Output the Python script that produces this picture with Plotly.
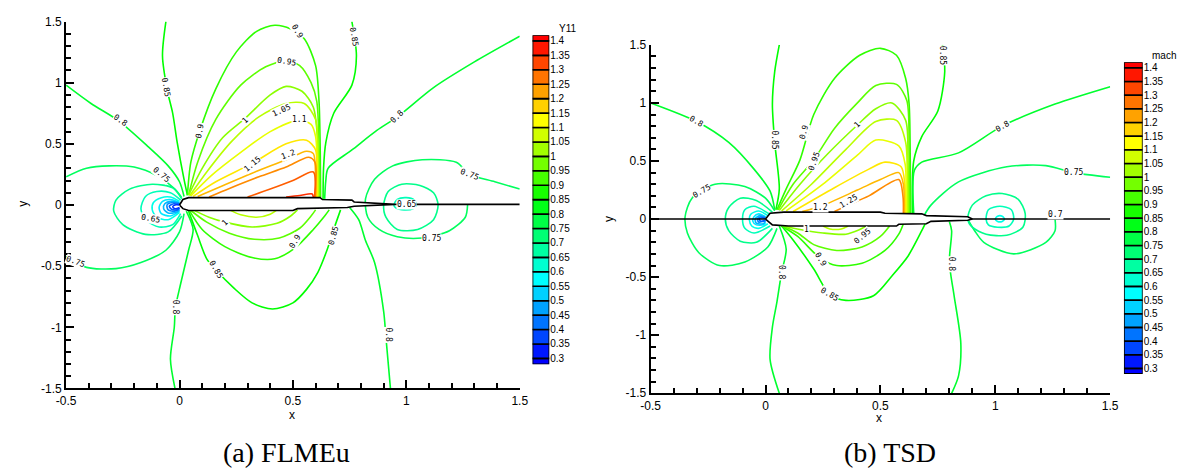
import plotly.graph_objects as go
from plotly.colors import sample_colorscale

# ---------------- shared scale ----------------
LEVELS = [0.3, 0.35, 0.4, 0.45, 0.5, 0.55, 0.6, 0.65, 0.7, 0.75, 0.8, 0.85,
          0.9, 0.95, 1.0, 1.05, 1.1, 1.15, 1.2, 1.25, 1.3, 1.35, 1.4]
LEVEL_TEXT = ["0.3", "0.35", "0.4", "0.45", "0.5", "0.55", "0.6", "0.65", "0.7", "0.75",
              "0.8", "0.85", "0.9", "0.95", "1", "1.05", "1.1", "1.15", "1.2", "1.25",
              "1.3", "1.35", "1.4"]
RAINBOW = [[0.0, "#0000ff"], [0.25, "#00ffff"], [0.5, "#00ff00"], [0.75, "#ffff00"], [1.0, "#ff0000"]]
ZMIN, ZMAX = 0.3, 1.4

X_TICKS = [-0.5, 0, 0.5, 1, 1.5]
X_TICKTEXT = ["-0.5", "0", "0.5", "1", "1.5"]
Y_TICKS = [-1.5, -1, -0.5, 0, 0.5, 1, 1.5]
Y_TICKTEXT = ["-1.5", "-1", "-0.5", "0", "0.5", "1", "1.5"]

# ---------------- (a) FLMEu : iso-Mach lines ----------------
A_LEVEL = [0.8, 0.75, 0.75, 0.85, 0.9, 0.95, 1.0, 1.05, 1.1, 1.15, 1.2, 1.25, 1.3, 1.35,
           0.85, 0.8, 0.75, 0.7, 0.65,
           0.8, 0.85, 0.9, 0.95, 1.0, 1.05, 0.8,
           0.7, 0.65, 0.6, 0.55, 0.5, 0.45, 0.4, 0.35]
A_PTS = [
    [(-0.5, 0.98), (-0.39, 0.83), (-0.27, 0.69), (-0.14, 0.48), (-0.05, 0.32), (0.0, 0.19), (0.02, 0.07)],
    [(-0.5, 0.23), (-0.41, 0.3), (-0.31, 0.32), (-0.2, 0.31), (-0.1, 0.24), (-0.02, 0.13), (0.01, 0.06)],
    [(-0.5, -0.42), (-0.41, -0.51), (-0.28, -0.52), (-0.17, -0.47), (-0.06, -0.37), (0.0, -0.22), (0.02, -0.07)],
    [(-0.06, 1.5), (-0.075, 1.22), (-0.053, 0.93), (-0.03, 0.75), (-0.01, 0.51), (0.02, 0.21), (0.035, 0.08)],
    [(0.035, 0.08), (0.05, 0.35), (0.09, 0.61), (0.16, 0.95), (0.25, 1.25), (0.34, 1.42), (0.42, 1.47),
     (0.49, 1.44), (0.55, 1.36), (0.6, 1.14), (0.615, 0.85), (0.62, 0.5), (0.622, 0.065)],
    [(0.04, 0.08), (0.08, 0.35), (0.16, 0.7), (0.27, 0.98), (0.38, 1.13), (0.47, 1.18), (0.53, 1.14),
     (0.58, 1.0), (0.605, 0.85), (0.615, 0.5), (0.618, 0.065)],
    [(0.04, 0.08), (0.1, 0.3), (0.19, 0.55), (0.29, 0.71), (0.4, 0.9), (0.47, 0.97), (0.54, 0.93),
     (0.59, 0.8), (0.61, 0.5), (0.614, 0.065)],
    [(0.045, 0.075), (0.12, 0.27), (0.23, 0.52), (0.35, 0.72), (0.47, 0.83), (0.55, 0.83), (0.6, 0.7),
     (0.61, 0.4), (0.611, 0.065)],
    [(0.05, 0.075), (0.14, 0.24), (0.27, 0.43), (0.4, 0.6), (0.52, 0.69), (0.58, 0.66), (0.6, 0.56),
     (0.607, 0.3), (0.608, 0.065)],
    [(0.06, 0.07), (0.16, 0.19), (0.32, 0.34), (0.47, 0.5), (0.56, 0.53), (0.6, 0.45), (0.604, 0.2), (0.605, 0.065)],
    [(0.08, 0.07), (0.18, 0.15), (0.32, 0.26), (0.47, 0.37), (0.56, 0.44), (0.59, 0.42), (0.6, 0.2), (0.601, 0.065)],
    [(0.13, 0.065), (0.22, 0.135), (0.35, 0.23), (0.47, 0.31), (0.57, 0.39), (0.597, 0.35), (0.598, 0.065)],
    [(0.3, 0.065), (0.4, 0.13), (0.5, 0.2), (0.59, 0.27), (0.595, 0.065)],
    [(0.47, 0.065), (0.53, 0.077), (0.585, 0.09), (0.59, 0.065)],
    [(0.76, 1.5), (0.78, 1.22), (0.76, 0.98), (0.68, 0.75), (0.645, 0.51), (0.635, 0.3), (0.633, 0.05)],
    [(0.64, 0.05), (0.645, 0.2), (0.655, 0.3), (0.76, 0.45), (0.87, 0.61), (0.96, 0.72), (1.12, 0.96),
     (1.3, 1.17), (1.5, 1.38)],
    [(1.5, 0.13), (1.39, 0.19), (1.28, 0.25), (1.22, 0.35), (1.07, 0.37), (0.94, 0.32), (0.86, 0.21),
     (0.82, 0.05), (0.83, -0.1), (0.88, -0.2), (0.96, -0.26), (1.07, -0.27), (1.19, -0.21), (1.26, -0.1), (1.27, 0.0)],
    [(0.9, 0.0), (0.92, 0.11), (0.98, 0.17), (1.06, 0.16), (1.12, 0.1), (1.14, 0.0), (1.12, -0.12),
     (1.05, -0.2), (0.96, -0.2), (0.91, -0.1), (0.9, 0.0)],
    [(0.945, 0.0), (0.96, 0.045), (1.0, 0.06), (1.035, 0.04), (1.045, 0.0), (1.03, -0.03), (0.99, -0.04),
     (0.955, -0.025), (0.945, 0.0)],
    [(0.03, -0.05), (0.06, -0.2), (0.04, -0.37), (0.003, -0.66), (-0.018, -0.84), (-0.023, -1.0),
     (-0.04, -1.26), (-0.02, -1.5)],
    [(0.04, -0.05), (0.08, -0.25), (0.12, -0.44), (0.16, -0.53), (0.24, -0.68), (0.32, -0.8), (0.41, -0.85),
     (0.5, -0.8), (0.56, -0.69), (0.61, -0.55), (0.65, -0.37), (0.68, -0.2), (0.71, -0.04)],
    [(0.045, -0.05), (0.1, -0.2), (0.2, -0.34), (0.32, -0.43), (0.42, -0.44), (0.51, -0.35), (0.59, -0.2),
     (0.64, -0.09), (0.66, -0.04)],
    [(0.05, -0.045), (0.12, -0.14), (0.22, -0.23), (0.33, -0.28), (0.44, -0.27), (0.53, -0.19), (0.58, -0.09), (0.6, -0.04)],
    [(0.06, -0.04), (0.13, -0.1), (0.2, -0.14), (0.32, -0.18), (0.43, -0.15), (0.49, -0.09), (0.52, -0.04)],
    [(0.22, -0.04), (0.27, -0.08), (0.34, -0.1), (0.4, -0.075), (0.43, -0.04)],
    [(0.75, -0.02), (0.79, -0.12), (0.82, -0.29), (0.86, -0.47), (0.9, -0.87), (0.91, -1.08), (0.93, -1.5)],
    [(0.01, 0.05), (-0.03, 0.14), (-0.12, 0.17), (-0.22, 0.13), (-0.28, 0.04), (-0.29, -0.05), (-0.25, -0.16),
     (-0.15, -0.24), (-0.05, -0.22), (0.01, -0.09)],
    [(0.005, 0.04), (-0.04, 0.1), (-0.1, 0.11), (-0.15, 0.07), (-0.17, -0.03), (-0.15, -0.12), (-0.09, -0.18),
     (-0.03, -0.16), (0.005, -0.07)],
    [(0.0, 0.03), (-0.04, 0.065), (-0.08, 0.06), (-0.115, 0.02), (-0.12, -0.04), (-0.1, -0.1), (-0.05, -0.12), (0.0, -0.06)],
    [(0.0, 0.02), (-0.04, 0.045), (-0.075, 0.03), (-0.09, -0.02), (-0.08, -0.07), (-0.04, -0.09), (0.0, -0.05)],
    [(0.0, 0.015), (-0.035, 0.03), (-0.065, 0.01), (-0.07, -0.03), (-0.05, -0.065), (-0.015, -0.06), (0.0, -0.04)],
    [(0.0, 0.01), (-0.03, 0.02), (-0.055, 0.0), (-0.05, -0.04), (-0.02, -0.05), (0.0, -0.03)],
    [(0.0, 0.005), (-0.025, 0.01), (-0.045, -0.01), (-0.035, -0.035), (-0.01, -0.04), (0.0, -0.025)],
    [(0.0, 0.0), (-0.02, 0.0), (-0.03, -0.015), (-0.02, -0.03), (0.0, -0.02)],
]
A_LABELS = [("0.8", -0.26, 0.69, 35), ("0.75", -0.08, 0.25, 40), ("0.85", -0.06, 0.96, 80),
            ("0.9", 0.09, 0.61, -80), ("0.95", 0.47, 1.17, 10), ("0.9", 0.52, 1.42, 60),
            ("1", 0.29, 0.69, -45), ("1.05", 0.45, 0.77, -25), ("1.1", 0.53, 0.7, 0),
            ("1.15", 0.32, 0.33, -40), ("1.2", 0.48, 0.41, -20), ("0.85", 0.77, 1.38, 80),
            ("0.8", 0.96, 0.72, -45), ("0.75", 1.28, 0.25, 20), ("0.65", 1.0, 0.0, 0),
            ("0.75", 1.11, -0.27, 0), ("0.65", -0.13, -0.11, 10), ("0.75", -0.46, -0.46, 20),
            ("0.8", -0.02, -0.84, 90), ("0.85", 0.16, -0.53, 60), ("0.9", 0.51, -0.3, -60),
            ("1", 0.2, -0.14, -45), ("0.8", 0.92, -1.06, 90), ("0.85", 0.68, -0.25, -75)]
A_FOIL_X = [0.0, 0.015, 0.04, 0.62, 0.63, 0.76, 0.77, 0.95, 0.77, 0.74, 0.52, 0.5, 0.04, 0.015, 0.0]
A_FOIL_Y = [0.0, 0.045, 0.06, 0.06, 0.045, 0.04, 0.025, 0.005, -0.01, -0.02, -0.03, -0.045, -0.045, -0.03, 0.0]
A_WAKE_X = [0.95, 1.5]
A_WAKE_Y = [0.005, 0.005]

# ---------------- (b) TSD ----------------
B_LEVEL = [0.8, 0.75, 0.7, 0.65, 0.6, 0.55, 0.5, 0.45, 0.4,
           0.85, 0.9, 0.95, 1.0, 1.05, 1.1, 1.15, 1.2, 1.25,
           0.85, 0.8, 0.75, 0.75, 0.7, 0.65, 0.6,
           0.8, 0.85, 0.9, 0.95, 1.0, 1.05, 0.8]
B_PTS = [
    [(-0.5, 1.0), (-0.3, 0.84), (-0.16, 0.66), (-0.05, 0.43), (0.02, 0.24), (0.04, 0.08)],
    [(0.04, 0.07), (0.0, 0.18), (-0.09, 0.28), (-0.22, 0.3), (-0.32, 0.18), (-0.35, 0.02), (-0.34, -0.12),
     (-0.29, -0.29), (-0.2, -0.4), (-0.09, -0.37), (0.01, -0.24), (0.05, -0.08)],
    [(0.03, 0.06), (-0.04, 0.16), (-0.11, 0.18), (-0.16, 0.1), (-0.175, 0.0), (-0.16, -0.1), (-0.11, -0.19),
     (-0.04, -0.2), (0.03, -0.08)],
    [(0.02, 0.04), (-0.05, 0.11), (-0.09, 0.08), (-0.1, 0.0), (-0.09, -0.08), (-0.05, -0.12), (0.02, -0.06)],
    [(0.01, 0.03), (-0.03, 0.07), (-0.065, 0.04), (-0.07, -0.01), (-0.06, -0.06), (-0.03, -0.08), (0.01, -0.04)],
    [(0.0, 0.02), (-0.03, 0.045), (-0.05, 0.02), (-0.055, -0.02), (-0.04, -0.05), (-0.01, -0.05), (0.0, -0.03)],
    [(0.0, 0.015), (-0.025, 0.03), (-0.045, 0.0), (-0.04, -0.035), (-0.01, -0.04), (0.0, -0.02)],
    [(0.0, 0.01), (-0.02, 0.02), (-0.035, 0.0), (-0.03, -0.025), (0.0, -0.015)],
    [(0.0, 0.005), (-0.015, 0.012), (-0.028, 0.0), (-0.02, -0.018), (0.0, -0.01)],
    [(0.045, 0.08), (0.06, 0.26), (0.04, 0.66), (0.03, 0.99), (0.04, 1.27), (0.06, 1.5)],
    [(0.05, 0.08), (0.09, 0.26), (0.15, 0.51), (0.21, 0.9), (0.3, 1.21), (0.41, 1.41), (0.5, 1.47),
     (0.57, 1.41), (0.61, 1.21), (0.625, 0.99), (0.63, 0.5), (0.632, 0.05)],
    [(0.055, 0.08), (0.12, 0.3), (0.21, 0.51), (0.3, 0.78), (0.4, 1.0), (0.48, 1.15), (0.57, 1.16),
     (0.615, 1.02), (0.625, 0.6), (0.627, 0.05)],
    [(0.06, 0.075), (0.15, 0.3), (0.27, 0.56), (0.4, 0.81), (0.48, 0.95), (0.55, 1.0), (0.61, 0.85),
     (0.62, 0.5), (0.622, 0.05)],
    [(0.07, 0.07), (0.2, 0.3), (0.35, 0.6), (0.48, 0.84), (0.57, 0.85), (0.61, 0.66), (0.617, 0.3), (0.618, 0.05)],
    [(0.09, 0.07), (0.25, 0.3), (0.4, 0.55), (0.48, 0.68), (0.58, 0.63), (0.608, 0.47), (0.612, 0.2), (0.613, 0.05)],
    [(0.12, 0.065), (0.3, 0.27), (0.45, 0.43), (0.52, 0.49), (0.59, 0.45), (0.606, 0.3), (0.608, 0.05)],
    [(0.16, 0.065), (0.24, 0.11), (0.4, 0.25), (0.5, 0.34), (0.58, 0.4), (0.6, 0.3), (0.603, 0.05)],
    [(0.3, 0.065), (0.36, 0.12), (0.45, 0.2), (0.58, 0.34), (0.598, 0.2), (0.6, 0.05)],
    [(0.77, 1.5), (0.78, 1.27), (0.75, 0.93), (0.68, 0.71), (0.645, 0.5), (0.64, 0.05)],
    [(0.645, 0.05), (0.648, 0.42), (0.68, 0.49), (0.84, 0.57), (1.03, 0.8), (1.26, 0.99), (1.5, 1.14)],
    [(1.5, 0.36), (1.34, 0.4), (1.22, 0.46), (1.05, 0.45), (0.84, 0.32), (0.72, 0.12), (0.69, 0.03)],
    [(0.88, 0.0), (0.91, -0.1), (0.95, -0.2), (1.08, -0.3), (1.22, -0.2), (1.26, -0.1), (1.26, 0.0)],
    [(0.88, 0.0), (0.9, 0.12), (0.96, 0.2), (1.03, 0.22), (1.1, 0.17), (1.13, 0.05), (1.12, -0.07),
     (1.05, -0.14), (0.96, -0.13), (0.9, -0.07), (0.88, 0.0)],
    [(0.96, 0.0), (0.97, 0.08), (1.02, 0.11), (1.07, 0.08), (1.08, 0.0), (1.06, -0.06), (1.01, -0.07),
     (0.97, -0.05), (0.96, 0.0)],
    [(1.0, 0.0), (1.01, 0.025), (1.03, 0.025), (1.04, 0.0), (1.03, -0.02), (1.01, -0.02), (1.0, 0.0)],
    [(0.06, -0.06), (0.09, -0.26), (0.07, -0.46), (0.05, -0.71), (0.03, -0.93), (0.02, -1.21), (0.06, -1.5)],
    [(0.07, -0.06), (0.12, -0.18), (0.21, -0.43), (0.28, -0.65), (0.35, -0.7), (0.47, -0.66), (0.55, -0.49),
     (0.62, -0.32), (0.68, -0.1), (0.7, -0.02)],
    [(0.07, -0.06), (0.14, -0.15), (0.24, -0.34), (0.31, -0.4), (0.42, -0.38), (0.52, -0.27), (0.58, -0.13), (0.6, -0.04)],
    [(0.075, -0.06), (0.14, -0.12), (0.21, -0.22), (0.31, -0.27), (0.42, -0.24), (0.5, -0.15), (0.54, -0.06)],
    [(0.08, -0.06), (0.15, -0.09), (0.25, -0.12), (0.35, -0.13), (0.41, -0.09), (0.44, -0.06)],
    [(0.25, -0.06), (0.28, -0.085), (0.33, -0.085), (0.36, -0.06)],
    [(0.8, -0.02), (0.81, -0.1), (0.8, -0.37), (0.82, -0.65), (0.85, -1.07), (0.84, -1.35), (0.81, -1.5)],
]
B_LABELS = [("0.8", -0.3, 0.84, 30), ("0.75", -0.28, 0.24, -30), ("0.85", 0.04, 0.68, 90),
            ("0.9", 0.17, 0.75, -75), ("0.95", 0.21, 0.5, -70), ("1", 0.4, 0.81, -45),
            ("0.85", 0.77, 1.41, 90), ("0.8", 1.03, 0.8, -30), ("0.75", 1.34, 0.4, 0),
            ("0.7", 1.26, 0.04, 0), ("1.2", 0.24, 0.1, 0), ("1.25", 0.36, 0.15, -30),
            ("0.8", 0.07, -0.46, 90), ("0.9", 0.24, -0.35, 60), ("0.85", 0.28, -0.65, 30),
            ("0.95", 0.42, -0.15, -40), ("1", 0.18, -0.09, 0), ("0.8", 0.81, -0.39, 90)]
B_FOIL_X = [0.0, 0.02, 0.08, 0.5, 0.52, 0.68, 0.7, 0.88, 0.9, 0.88, 0.72, 0.7, 0.58, 0.57, 0.1, 0.03, 0.0]
B_FOIL_Y = [0.0, 0.05, 0.06, 0.06, 0.05, 0.045, 0.03, 0.02, 0.0, -0.01, -0.02, -0.04, -0.045, -0.06, -0.06, -0.05, 0.0]
B_WAKE_X = [-0.5, 1.5]
B_WAKE_Y = [0.0, 0.0]


def level_color(v):
    return sample_colorscale(RAINBOW, [(v - ZMIN) / (ZMAX - ZMIN)])[0]


fig = go.Figure()


def add_panel(levels, pts, labels, foil_x, foil_y, wake_x, wake_y, xa, ya):
    for lev, p in zip(levels, pts):
        fig.add_trace(go.Scatter(
            x=[q[0] for q in p], y=[q[1] for q in p], mode="lines",
            line=dict(color=level_color(lev), width=1.6, shape="spline", smoothing=0.8),
            xaxis=xa, yaxis=ya, hoverinfo="skip", showlegend=False))
    fig.add_trace(go.Scatter(x=wake_x, y=wake_y, mode="lines", line=dict(color="black", width=1.6),
                             xaxis=xa, yaxis=ya, hoverinfo="skip", showlegend=False))
    fig.add_trace(go.Scatter(x=foil_x, y=foil_y, mode="lines", fill="toself", fillcolor="white",
                             line=dict(color="black", width=1.6), xaxis=xa, yaxis=ya,
                             hoverinfo="skip", showlegend=False))
    for txt, lx, ly, ang in labels:
        fig.add_annotation(x=lx, y=ly, xref=xa, yref=ya, text=txt, showarrow=False,
                           textangle=ang, font=dict(family="DejaVu Sans Mono", size=8, color="black"),
                           bgcolor="white", borderpad=0)


add_panel(A_LEVEL, A_PTS, A_LABELS, A_FOIL_X, A_FOIL_Y, A_WAKE_X, A_WAKE_Y, "x", "y")
add_panel(B_LEVEL, B_PTS, B_LABELS, B_FOIL_X, B_FOIL_Y, B_WAKE_X, B_WAKE_Y, "x2", "y2")

# ---------------- legends (colour bands) ----------------
BAND_BASE = [LEVELS[0] - 0.02] + LEVELS
BAND_HEIGHT = [0.02] + [b - a for a, b in zip(LEVELS[:-1], LEVELS[1:])] + [0.02]
BAND_COLOR = ([level_color(LEVELS[0])] +
              [level_color((a + b) / 2) for a, b in zip(LEVELS[:-1], LEVELS[1:])] +
              [level_color(LEVELS[-1])])
for xa, ya in (("x3", "y3"), ("x4", "y4")):
    fig.add_trace(go.Bar(x=[0] * len(BAND_BASE), y=BAND_HEIGHT, base=BAND_BASE, width=1,
                         marker=dict(color=BAND_COLOR, line=dict(color="black", width=1.6)),
                         xaxis=xa, yaxis=ya, hoverinfo="skip", showlegend=False))

TICKFONT = dict(family="Liberation Sans", size=12, color="black")
main_axis = dict(showgrid=False, zeroline=False, showline=True, linecolor="black", linewidth=2,
                 ticks="inside", ticklen=8, tickwidth=2, tickcolor="black", tickfont=TICKFONT,
                 minor=dict(ticks="inside", ticklen=5, tickwidth=1.5, tickcolor="black", dtick=0.1))
cb_x = dict(range=[-0.5, 0.5], visible=False, fixedrange=True)
cb_y = dict(range=[LEVELS[0] - 0.02, LEVELS[-1] + 0.02], side="right", showgrid=False, zeroline=False,
            showline=False, ticks="", tickvals=LEVELS, ticktext=LEVEL_TEXT,
            tickfont=dict(family="Liberation Sans", size=10, color="black"))

W, H = 1192, 476
fig.update_layout(
    width=W, height=H, margin=dict(l=0, r=0, t=0, b=0),
    paper_bgcolor="white", plot_bgcolor="white", barmode="overlay", showlegend=False,
    xaxis=dict(main_axis, domain=[57 / W, 518 / W], range=[-0.5, 1.5], tickvals=X_TICKS, ticktext=X_TICKTEXT, anchor="y"),
    yaxis=dict(main_axis, domain=[1 - 393 / H, 1 - 15 / H], range=[-1.5, 1.5], tickvals=Y_TICKS, ticktext=Y_TICKTEXT, anchor="x"),
    xaxis2=dict(main_axis, domain=[651 / W, 1118 / W], range=[-0.5, 1.5], tickvals=X_TICKS, ticktext=X_TICKTEXT, anchor="y2"),
    yaxis2=dict(main_axis, domain=[1 - 398 / H, 1 - 39 / H], range=[-1.5, 1.5], tickvals=Y_TICKS, ticktext=Y_TICKTEXT, anchor="x2"),
    xaxis3=dict(cb_x, domain=[531 / W, 548 / W], anchor="y3"),
    yaxis3=dict(cb_y, domain=[1 - 368 / H, 1 - 29 / H], anchor="x3"),
    xaxis4=dict(cb_x, domain=[1132 / W, 1151 / W], anchor="y4"),
    yaxis4=dict(cb_y, domain=[1 - 378 / H, 1 - 57 / H], anchor="x4"),
)

# axis titles, legend titles, captions
TEXTS = [("x", 287, 420, 0, "Liberation Sans", 12), ("y", 13, 203, -90, "Liberation Sans", 12),
         ("x", 883, 423, 0, "Liberation Sans", 12), ("y", 608, 218, -90, "Liberation Sans", 12),
         ("(a) FLMEu", 281, 459, 0, "Liberation Serif", 28), ("(b) TSD", 894, 459, 0, "Liberation Serif", 28)]
for txt, px, py, ang, fam, sz in TEXTS:
    fig.add_annotation(x=px / W, y=1 - py / H, xref="paper", yref="paper", text=txt, showarrow=False,
                       textangle=ang, font=dict(family=fam, size=sz, color="black"),
                       xanchor="center", yanchor="middle")
for txt, px, py in (("Y11", 556, 22), ("mach", 1158, 50)):
    fig.add_annotation(x=px / W, y=1 - py / H, xref="paper", yref="paper", text=txt, showarrow=False,
                       font=dict(family="Liberation Sans", size=10, color="black"),
                       xanchor="left", yanchor="middle")

fig.write_html("out.html")
